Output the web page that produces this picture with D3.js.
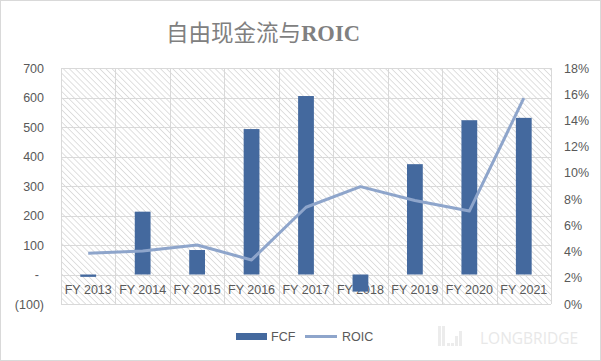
<!DOCTYPE html>
<html><head><meta charset="utf-8">
<script src="https://cdn.jsdelivr.net/npm/d3@7/dist/d3.min.js"></script>
<style>body{margin:0;background:#fff}svg{display:block}</style>
</head><body>
<svg id="c" width="601" height="361"></svg>
<script>
const categories = ["FY 2013","FY 2014","FY 2015","FY 2016","FY 2017","FY 2018","FY 2019","FY 2020","FY 2021"];
const fcf = [-8, 213, 83, 493, 605, -58, 374, 523, 531];
const roic = [3.87, 4.04, 4.5, 3.36, 7.38, 8.95, 7.9, 7.09, 15.7];
const leftTicks = [-100, 0, 100, 200, 300, 400, 500, 600, 700];
const rightTicks = [0, 2, 4, 6, 8, 10, 12, 14, 16, 18];
const title = "自由现金流与ROIC";

const svg = d3.select("#c");
const W = 601, H = 361;
const m = {l: 61, r: 551, t: 68, b: 304};

svg.append("rect").attr("x",0.5).attr("y",0.5).attr("width",W-1).attr("height",H-1)
  .attr("fill","#fff").attr("stroke","#d9d9d9");

const defs = svg.append("defs");
const pat = defs.append("pattern").attr("id","hatch").attr("patternUnits","userSpaceOnUse")
  .attr("width",4.3).attr("height",4.3).attr("patternTransform","rotate(-45)");
pat.append("rect").attr("width",4.3).attr("height",4.3).attr("fill","#fff");
pat.append("line").attr("x1",0).attr("y1",0).attr("x2",0).attr("y2",4.3)
  .attr("stroke","#cccccc").attr("stroke-width",1.2);

const x = d3.scaleBand().domain(categories).range([m.l, m.r]).padding(0);
const y = d3.scaleLinear().domain([-100, 700]).range([m.b, m.t]);
const y2 = d3.scaleLinear().domain([0, 18]).range([m.b, m.t]);

svg.append("rect").attr("x",m.l).attr("y",m.t).attr("width",m.r-m.l).attr("height",m.b-m.t)
  .attr("fill","url(#hatch)");

// horizontal gridlines
svg.append("g").selectAll("line").data(leftTicks).join("line")
  .attr("x1",m.l).attr("x2",m.r)
  .attr("y1",d=>Math.round(y(d))+0.5).attr("y2",d=>Math.round(y(d))+0.5)
  .attr("stroke","#d9d9d9").attr("stroke-width",1);
// vertical gridlines
const vx = categories.map(c=>x(c)).concat([m.r]);
svg.append("g").selectAll("line").data(vx).join("line")
  .attr("x1",d=>Math.round(d)+0.5).attr("x2",d=>Math.round(d)+0.5)
  .attr("y1",m.t).attr("y2",m.b)
  .attr("stroke","#d9d9d9").attr("stroke-width",1);

const font = "'Liberation Sans', Arial, sans-serif";
// category labels (drawn under bars)
const ba = d3.axisBottom(x).tickSize(0).tickPadding(0);
const gb = svg.append("g").attr("transform",`translate(0,${y(0)+11})`).call(ba);
gb.select(".domain").remove();
gb.selectAll("text").attr("font-family",font).attr("font-size",12.5).attr("fill","#595959");

// bars
const bw = x.bandwidth()*0.29;
svg.append("g").selectAll("rect").data(categories).join("rect")
  .attr("x",(d)=>x(d)+x.bandwidth()/2-bw/2)
  .attr("width",bw)
  .attr("y",(d,i)=>y(Math.max(0,fcf[i])))
  .attr("height",(d,i)=>Math.abs(y(fcf[i])-y(0)))
  .attr("fill","#44699e");

// line
const line = d3.line().x((d,i)=>x(categories[i])+x.bandwidth()/2).y(d=>y2(d));
svg.append("path").datum(roic).attr("d",line).attr("fill","none")
  .attr("stroke","#8ea5cb").attr("stroke-width",3).attr("stroke-linejoin","round");

// left axis
const la = d3.axisLeft(y).tickValues(leftTicks).tickSize(0).tickPadding(0)
  .tickFormat(d=> d<0 ? "("+Math.abs(d)+")" : d===0 ? "-" : d3.format("d")(d));
const gl = svg.append("g").attr("transform",`translate(44,0)`).call(la);
gl.select(".domain").remove();
gl.selectAll("text").attr("font-family",font).attr("font-size",12.5).attr("fill","#595959");
gl.selectAll(".tick").filter(d=>d===0).select("text").attr("dx",-5);

// right axis
const ra = d3.axisRight(y2).tickValues(rightTicks).tickSize(0).tickPadding(0)
  .tickFormat(d=>d+"%");
const gr = svg.append("g").attr("transform",`translate(564,0)`).call(ra);
gr.select(".domain").remove();
gr.selectAll("text").attr("font-family",font).attr("font-size",12.5).attr("fill","#595959");

// title
const t = svg.append("text").attr("x",263).attr("y",41).attr("text-anchor","middle")
  .attr("fill","#808080").attr("font-size",22.5);
t.append("tspan").attr("font-family","'Noto Sans CJK SC', sans-serif").text(title.slice(0,6));
t.append("tspan").attr("font-family","'Liberation Serif', serif").attr("font-weight","bold").text(title.slice(6));

// legend
const lg = svg.append("g");
lg.append("rect").attr("x",236).attr("y",333).attr("width",31).attr("height",7).attr("fill","#44699e");
lg.append("text").attr("x",271).attr("y",341).attr("font-family",font).attr("font-size",12.5).attr("fill","#595959").text("FCF");
lg.append("line").attr("x1",305).attr("x2",337).attr("y1",336.5).attr("y2",336.5).attr("stroke","#8ea5cb").attr("stroke-width",3);
lg.append("text").attr("x",342).attr("y",341).attr("font-family",font).attr("font-size",12.5).attr("fill","#595959").text("ROIC");

// watermark
const wm = svg.append("g").attr("fill","#ececec");
[[438,326,3,20],[442,326,3,20],[447,343,3,3],[451,343,3,3],[455,336,3,10],[459,331,3,15]].forEach(r=>{
  wm.append("rect").attr("x",r[0]).attr("y",r[1]).attr("width",r[2]).attr("height",r[3]);
});
svg.append("text").attr("x",480).attr("y",344).attr("font-family","'Open Sans', sans-serif")
  .attr("font-size",15.5).attr("fill","#e8e8e8").text("LONGBRIDGE");
</script>
</body></html>
